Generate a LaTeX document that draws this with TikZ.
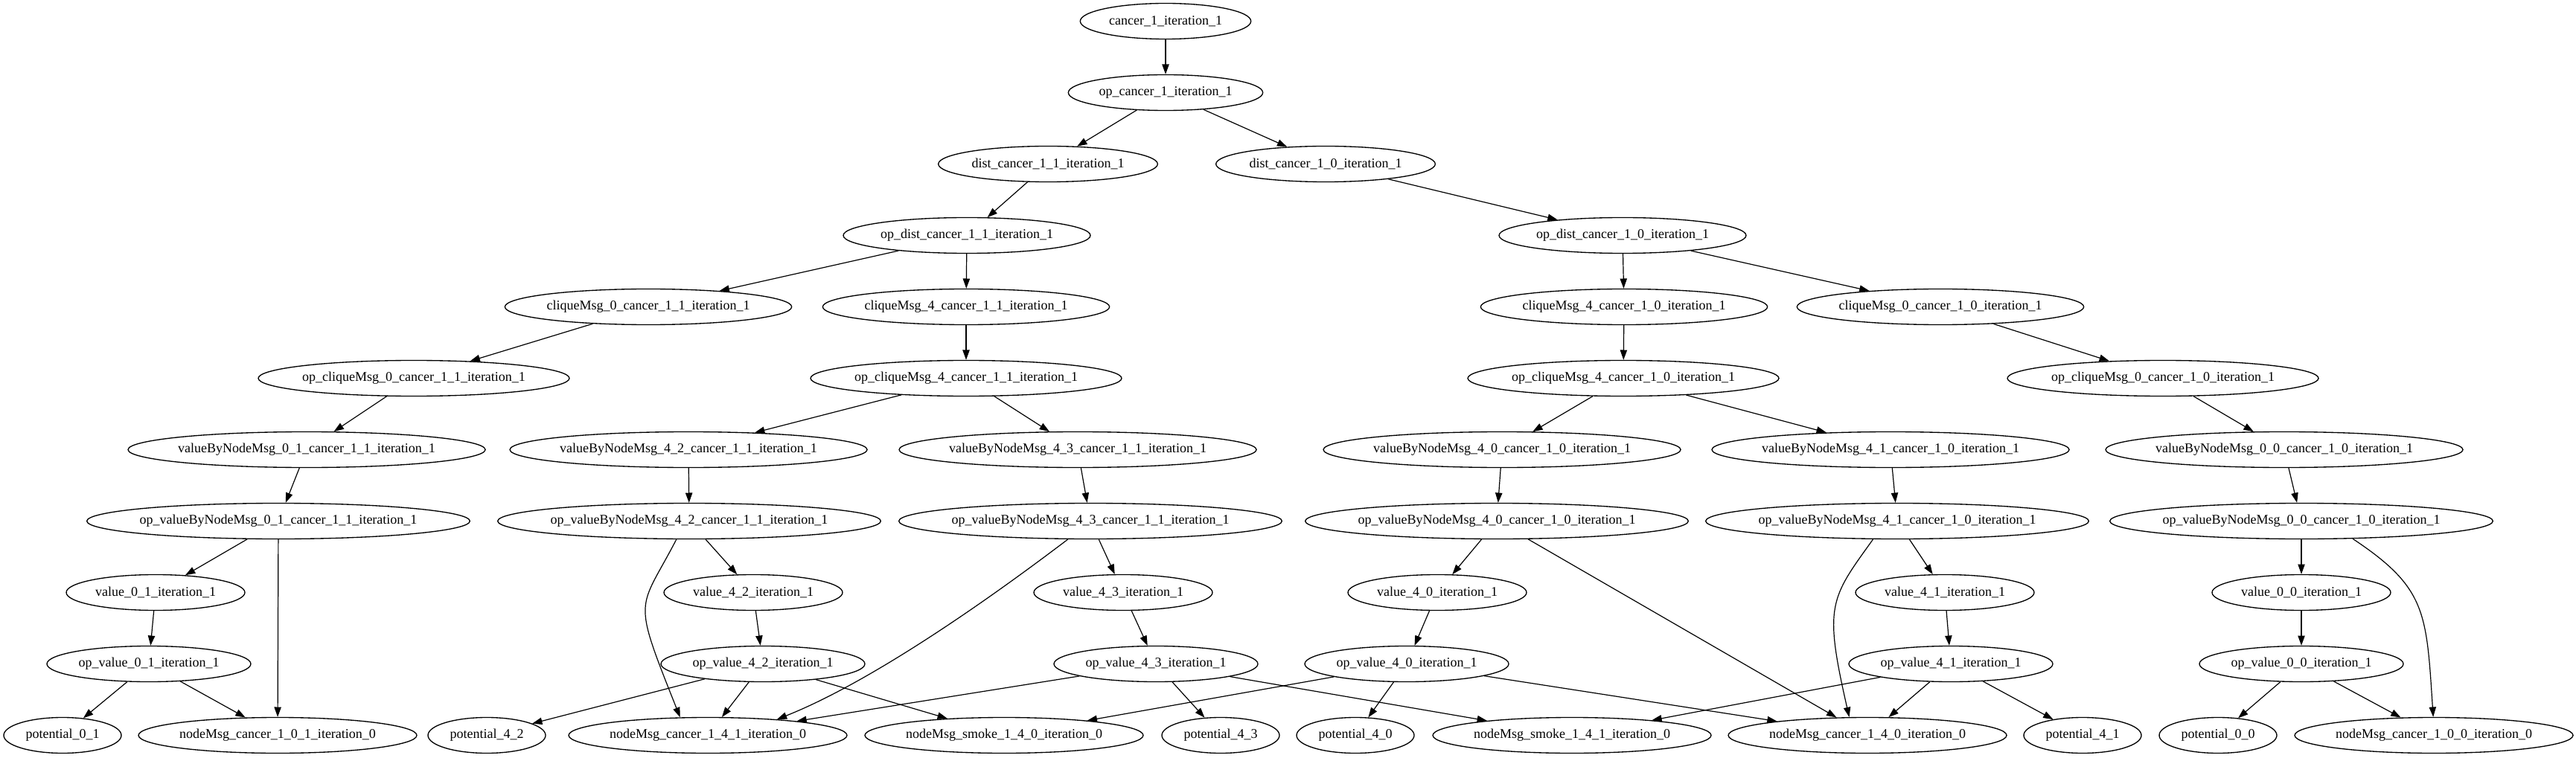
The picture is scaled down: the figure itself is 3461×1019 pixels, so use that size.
\documentclass[tikz,border=0pt]{standalone}
\usepackage{fontspec}
\newfontfamily\gvf{Liberation Serif}
\usetikzlibrary{shapes.geometric,arrows.meta}
\begin{document}
\begin{tikzpicture}[x=0.75pt,y=-0.75pt,
  gv/.style={draw, ellipse, line width=1pt, inner xsep=-4pt, inner ysep=0pt,
    minimum height=36pt, font=\gvf\fontsize{13.5pt}{16pt}\selectfont},
  w/.style={gv, minimum width=#1},
  edge/.style={line width=0.9pt, -{Triangle[length=10pt,width=7pt]}}]
\fill[white] (0,0) rectangle (3461,1019);
\useasboundingbox (0,0) rectangle (3461,1019);
% row 0
\node[w=172pt] (c1) at (1566,28.5) {cancer\_1\_iteration\_1};
% row 1
\node[w=196pt] (opc) at (1566,124.5) {op\_cancer\_1\_iteration\_1};
% row 2
\node[w=221pt] (d11) at (1408,220.5) {dist\_cancer\_1\_1\_iteration\_1};
\node[w=221pt] (d10) at (1781,220.5) {dist\_cancer\_1\_0\_iteration\_1};
% row 3
\node[w=249pt] (od11) at (1299,316.5) {op\_dist\_cancer\_1\_1\_iteration\_1};
\node[w=249pt] (od10) at (2180,316.5) {op\_dist\_cancer\_1\_0\_iteration\_1};
% row 4
\node[w=289pt] (cm011) at (871,412.5) {cliqueMsg\_0\_cancer\_1\_1\_iteration\_1};
\node[w=289pt] (cm411) at (1298,412.5) {cliqueMsg\_4\_cancer\_1\_1\_iteration\_1};
\node[w=289pt] (cm410) at (2182,412.5) {cliqueMsg\_4\_cancer\_1\_0\_iteration\_1};
\node[w=289pt] (cm010) at (2607,412.5) {cliqueMsg\_0\_cancer\_1\_0\_iteration\_1};
% row 5
\node[w=313.5pt] (ocm011) at (556,508.5) {op\_cliqueMsg\_0\_cancer\_1\_1\_iteration\_1};
\node[w=313.5pt] (ocm411) at (1298,508.5) {op\_cliqueMsg\_4\_cancer\_1\_1\_iteration\_1};
\node[w=313.5pt] (ocm410) at (2181,508.5) {op\_cliqueMsg\_4\_cancer\_1\_0\_iteration\_1};
\node[w=313.5pt] (ocm010) at (2906,508.5) {op\_cliqueMsg\_0\_cancer\_1\_0\_iteration\_1};
% row 6
\node[w=360pt] (v01) at (412,604.5) {valueByNodeMsg\_0\_1\_cancer\_1\_1\_iteration\_1};
\node[w=360pt] (v42) at (925,604.5) {valueByNodeMsg\_4\_2\_cancer\_1\_1\_iteration\_1};
\node[w=360pt] (v43) at (1448,604.5) {valueByNodeMsg\_4\_3\_cancer\_1\_1\_iteration\_1};
\node[w=360pt] (v40) at (2018,604.5) {valueByNodeMsg\_4\_0\_cancer\_1\_0\_iteration\_1};
\node[w=360pt] (v41) at (2540,604.5) {valueByNodeMsg\_4\_1\_cancer\_1\_0\_iteration\_1};
\node[w=360pt] (v00) at (3069,604.5) {valueByNodeMsg\_0\_0\_cancer\_1\_0\_iteration\_1};
% row 7
\node[w=386pt] (ov01) at (374,700.5) {op\_valueByNodeMsg\_0\_1\_cancer\_1\_1\_iteration\_1};
\node[w=386pt] (ov42) at (926,700.5) {op\_valueByNodeMsg\_4\_2\_cancer\_1\_1\_iteration\_1};
\node[w=386pt] (ov43) at (1465,700.5) {op\_valueByNodeMsg\_4\_3\_cancer\_1\_1\_iteration\_1};
\node[w=386pt] (ov40) at (2011,700.5) {op\_valueByNodeMsg\_4\_0\_cancer\_1\_0\_iteration\_1};
\node[w=386pt] (ov41) at (2549,700.5) {op\_valueByNodeMsg\_4\_1\_cancer\_1\_0\_iteration\_1};
\node[w=386pt] (ov00) at (3092,700.5) {op\_valueByNodeMsg\_0\_0\_cancer\_1\_0\_iteration\_1};
% row 8
\node[w=180pt] (val01) at (209,796.5) {value\_0\_1\_iteration\_1};
\node[w=180pt] (val42) at (1012,796.5) {value\_4\_2\_iteration\_1};
\node[w=180pt] (val43) at (1509,796.5) {value\_4\_3\_iteration\_1};
\node[w=180pt] (val40) at (1931,796.5) {value\_4\_0\_iteration\_1};
\node[w=180pt] (val41) at (2613,796.5) {value\_4\_1\_iteration\_1};
\node[w=180pt] (val00) at (3092,796.5) {value\_0\_0\_iteration\_1};
% row 9
\node[w=205.5pt] (oval01) at (200,892.5) {op\_value\_0\_1\_iteration\_1};
\node[w=205.5pt] (oval42) at (1025,892.5) {op\_value\_4\_2\_iteration\_1};
\node[w=205.5pt] (oval43) at (1553,892.5) {op\_value\_4\_3\_iteration\_1};
\node[w=205.5pt] (oval40) at (1890,892.5) {op\_value\_4\_0\_iteration\_1};
\node[w=205.5pt] (oval41) at (2621,892.5) {op\_value\_4\_1\_iteration\_1};
\node[w=205.5pt] (oval00) at (3092,892.5) {op\_value\_0\_0\_iteration\_1};
% row 10
\node[w=118.5pt] (p01) at (84,988.5) {potential\_0\_1};
\node[w=280.5pt] (nc101) at (373,988.5) {nodeMsg\_cancer\_1\_0\_1\_iteration\_0};
\node[w=118.5pt] (p42) at (654,988.5) {potential\_4\_2};
\node[w=280.5pt] (nc141) at (951,988.5) {nodeMsg\_cancer\_1\_4\_1\_iteration\_0};
\node[w=280.5pt] (ns140) at (1349,988.5) {nodeMsg\_smoke\_1\_4\_0\_iteration\_0};
\node[w=118.5pt] (p43) at (1640,988.5) {potential\_4\_3};
\node[w=118.5pt] (p40) at (1821,988.5) {potential\_4\_0};
\node[w=280.5pt] (ns141) at (2112,988.5) {nodeMsg\_smoke\_1\_4\_1\_iteration\_0};
\node[w=280.5pt] (nc140) at (2509,988.5) {nodeMsg\_cancer\_1\_4\_0\_iteration\_0};
\node[w=118.5pt] (p41) at (2798,988.5) {potential\_4\_1};
\node[w=118.5pt] (p00) at (2980,988.5) {potential\_0\_0};
\node[w=280.5pt] (nc100) at (3270,988.5) {nodeMsg\_cancer\_1\_0\_0\_iteration\_0};
% edges
\draw[edge] (c1) -- (opc);
\draw[edge] (opc) -- (d11);
\draw[edge] (opc) -- (d10);
\draw[edge] (d11) -- (od11);
\draw[edge] (d10) -- (od10);
\draw[edge] (od11) -- (cm011);
\draw[edge] (od11) -- (cm411);
\draw[edge] (od10) -- (cm410);
\draw[edge] (od10) -- (cm010);
\draw[edge] (cm011) -- (ocm011);
\draw[edge] (cm411) -- (ocm411);
\draw[edge] (cm410) -- (ocm410);
\draw[edge] (cm010) -- (ocm010);
\draw[edge] (ocm011) -- (v01);
\draw[edge] (ocm411) -- (v42);
\draw[edge] (ocm411) -- (v43);
\draw[edge] (ocm410) -- (v40);
\draw[edge] (ocm410) -- (v41);
\draw[edge] (ocm010) -- (v00);
\draw[edge] (v01) -- (ov01);
\draw[edge] (v42) -- (ov42);
\draw[edge] (v43) -- (ov43);
\draw[edge] (v40) -- (ov40);
\draw[edge] (v41) -- (ov41);
\draw[edge] (v00) -- (ov00);
\draw[edge] (ov01) -- (val01);
\draw[edge] (ov01) -- (nc101);
\draw[edge] (ov42) -- (val42);
\draw[edge] (ov42.-125) .. controls (858,823) and (848,799) .. (nc141.147);
\draw[edge] (ov43) -- (val43);
\draw[edge] (ov43.-141) .. controls (1286,838) and (1150,925) .. (nc141.13);
\draw[edge] (ov40) -- (val40);
\draw[edge] (ov40) -- (nc140);
\draw[edge] (ov41) -- (val41);
\draw[edge] (ov41.-143) .. controls (2459,805) and (2450,813) .. (nc140.135);
\draw[edge] (ov00) -- (val00);
\draw[edge] (ov00.-19) .. controls (3260,790) and (3260,823) .. (nc100.92);
\draw[edge] (val01) -- (oval01);
\draw[edge] (val42) -- (oval42);
\draw[edge] (val43) -- (oval43);
\draw[edge] (val40) -- (oval40);
\draw[edge] (val41) -- (oval41);
\draw[edge] (val00) -- (oval00);
\draw[edge] (oval01) -- (p01);
\draw[edge] (oval01) -- (nc101);
\draw[edge] (oval42) -- (p42);
\draw[edge] (oval42) -- (nc141);
\draw[edge] (oval42) -- (ns140);
\draw[edge] (oval43) -- (nc141);
\draw[edge] (oval43) -- (p43);
\draw[edge] (oval43) -- (ns141);
\draw[edge] (oval40) -- (ns140);
\draw[edge] (oval40) -- (p40);
\draw[edge] (oval40) -- (nc140);
\draw[edge] (oval41) -- (ns141);
\draw[edge] (oval41) -- (nc140);
\draw[edge] (oval41) -- (p41);
\draw[edge] (oval00) -- (p00);
\draw[edge] (oval00) -- (nc100);
\end{tikzpicture}
\end{document}
